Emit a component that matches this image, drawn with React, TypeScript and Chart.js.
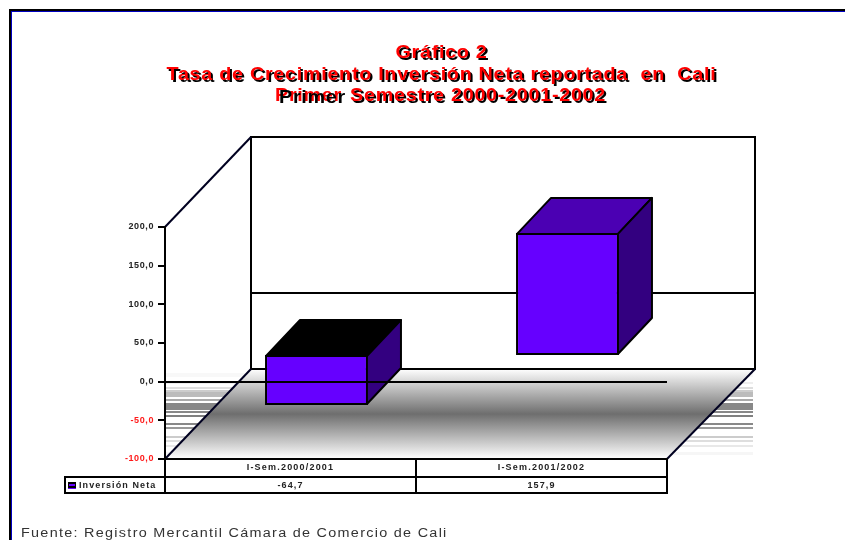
import React, { useEffect, useRef } from "react";
import { Chart, registerables } from "chart.js";

Chart.register(...registerables);

const categories = ["I-Sem.2000/2001", "I-Sem.2001/2002"];
const seriesName = "Inversión Neta";
const inversionNeta = [-64.7, 157.9];
const topColors = ["#000000", "#4b00b3"];
const titleLines = ["Gráfico 2", "Tasa de Crecimiento Inversión Neta reportada  en  Cali"];
const titleLead = "Primer";
const titleRest = " Semestre 2000-2001-2002";
const footer = "Fuente: Registro Mercantil Cámara de Comercio de Cali";
// band decoration [top, height, grey]
const bands: number[][] = [
  [373, 4, 248], [382, 2, 238], [387, 2, 222], [390, 2, 205], [392, 5, 188], [399, 2, 170],
  [403, 7, 136], [411, 2, 136], [415, 2, 128], [423, 2, 136], [427, 2, 153], [436, 2, 204],
  [440, 2, 222], [445, 2, 232], [452, 3, 246],
];

const fmt = (v: number, d = 1) => v.toFixed(d).replace(".", ",");
const ARIAL = '"Liberation Sans"';

function line(ctx: CanvasRenderingContext2D, pts: number[][], w = 2, c = "#000") {
  ctx.beginPath();
  pts.forEach((p, i) => (i ? ctx.lineTo(p[0], p[1]) : ctx.moveTo(p[0], p[1])));
  ctx.lineWidth = w;
  ctx.strokeStyle = c;
  ctx.stroke();
}

function poly(ctx: CanvasRenderingContext2D, pts: number[][], fill: string) {
  ctx.beginPath();
  pts.forEach((p, i) => (i ? ctx.lineTo(p[0], p[1]) : ctx.moveTo(p[0], p[1])));
  ctx.closePath();
  ctx.fillStyle = fill;
  ctx.fill();
  ctx.lineWidth = 2;
  ctx.strokeStyle = "#000";
  ctx.lineJoin = "round";
  ctx.stroke();
}

function wideText(ctx: CanvasRenderingContext2D, t: string, x: number, y: number, sx: number) {
  ctx.save();
  ctx.translate(x, y);
  ctx.scale(sx, 1);
  ctx.fillText(t, 0, 0);
  ctx.restore();
}

const BAR_SHIFT_X = 26;
const BAR_SHIFT_Y = 26.67;
const TITLE_SX = 1.1;
const spacing = { x: "1.2px", y: "0.6px" };

const scene = {
  id: "scene",
  beforeDraw(chart: any) {
    const ctx: CanvasRenderingContext2D = chart.ctx;
    const { x, y } = chart.scales;
    // per-axis letter spacing of the tick labels
    for (const k of ["x", "y"] as const) {
      const s = chart.scales[k];
      if (!s.__spaced) {
        const orig = s.drawLabels;
        s.drawLabels = function (a: any) {
          ctx.save();
          (ctx as any).letterSpacing = spacing[k];
          orig.call(this, a);
          ctx.restore();
        };
        s.__spaced = true;
      }
    }
    ctx.save();
    ctx.fillStyle = "#fff";
    ctx.fillRect(0, 0, chart.width, chart.height);

    // outer frame
    ctx.fillStyle = "#000";
    ctx.fillRect(9, 9, 836, 2);
    ctx.fillRect(9, 9, 2, 531);
    ctx.fillStyle = "#0000c0";
    ctx.fillRect(11, 11, 834, 1);
    ctx.fillRect(11, 11, 1, 529);

    const L = x.left, R = x.right, T = y.top, B = y.bottom;
    const dx = 86, dy = 90;
    const RW = R + 88;

    // bands beside the floor
    for (const [t, h, g] of bands) {
      ctx.fillStyle = `rgb(${g},${g},${g})`;
      ctx.fillRect(L, t, dx, h);
      ctx.fillRect(R, t, dx, h);
    }

    // back wall interior
    ctx.fillStyle = "#fff";
    ctx.fillRect(L + dx, T - dy, RW - L - dx, B - T);

    // floor
    const g = ctx.createLinearGradient(0, B - dy, 0, B);
    g.addColorStop(0, "#ffffff");
    g.addColorStop(0.5, "#6e6e6e");
    g.addColorStop(1, "#ffffff");
    ctx.beginPath();
    ctx.moveTo(L, B);
    ctx.lineTo(L + dx, B - dy);
    ctx.lineTo(RW, B - dy);
    ctx.lineTo(R, B);
    ctx.closePath();
    ctx.fillStyle = g;
    ctx.fill();

    // walls
    line(ctx, [[L + dx, B - dy], [L + dx, T - dy], [RW, T - dy], [RW, B - dy], [L + dx, B - dy]]);
    line(ctx, [[L, T], [L + dx, T - dy]], 2, "#000020");
    line(ctx, [[L, B], [L + dx, B - dy]], 2, "#000020");
    line(ctx, [[RW, B - dy], [R, B]], 2, "#000020");
    // zero line on the back wall
    const zero = Math.round(y.getPixelForValue(0));
    line(ctx, [[L + dx, zero - 89], [RW, zero - 89]]);

    // title
    ctx.textBaseline = "alphabetic";
    ctx.textAlign = "left";
    ctx.font = `bold 18px ${ARIAL}`;
    (ctx as any).letterSpacing = "0.63px";
    const cx = 442.5;
    const ys = [59, 81, 102];
    titleLines.forEach((t, i) => {
      const w = ctx.measureText(t).width * TITLE_SX;
      ctx.fillStyle = "#000";
      wideText(ctx, t, cx - w / 2 + 1, ys[i] + 1, TITLE_SX);
      ctx.fillStyle = "#ff0000";
      wideText(ctx, t, cx - w / 2 - 1, ys[i] - 1, TITLE_SX);
    });
    const whole = titleLead + titleRest;
    const x0 = cx - (ctx.measureText(whole).width * TITLE_SX) / 2;
    const xr = x0 + ctx.measureText(titleLead).width * TITLE_SX;
    ctx.fillStyle = "#ff0000";
    wideText(ctx, titleLead, x0 - 3, ys[2] - 1, TITLE_SX);
    ctx.fillStyle = "#000";
    wideText(ctx, titleLead, x0 + 1, ys[2] + 1, TITLE_SX);
    wideText(ctx, titleRest, xr + 1, ys[2] + 1, TITLE_SX);
    ctx.fillStyle = "#ff0000";
    wideText(ctx, titleRest, xr - 1, ys[2] - 1, TITLE_SX);
    ctx.restore();
  },
  beforeDatasetsDraw(chart: any) {
    chart.ctx.save();
    chart.ctx.translate(BAR_SHIFT_X, -BAR_SHIFT_Y);
  },
  afterDatasetsDraw(chart: any) {
    const ctx: CanvasRenderingContext2D = chart.ctx;
    const { x, y } = chart.scales;
    const dx = 34, dy = 36;
    chart.getDatasetMeta(0).data.forEach((b: any, i: number) => {
      const l = b.x - b.width / 2 + 1, r = b.x + b.width / 2 - 1;
      const t = Math.min(b.y, b.base) + 1, bo = Math.max(b.y, b.base) - 1;
      poly(ctx, [[l, t], [l + dx, t - dy], [r + dx, t - dy], [r, t]], topColors[i]);
      poly(ctx, [[r, t], [r + dx, t - dy], [r + dx, bo - dy], [r, bo]], "#330080");
    });
    ctx.restore();
    // front zero line
    const zero = Math.round(y.getPixelForValue(0));
    line(ctx, [[x.left, zero], [x.right, zero]]);
  },
  afterDraw(chart: any) {
    const ctx: CanvasRenderingContext2D = chart.ctx;
    const { x, y } = chart.scales;
    const L = x.left, R = x.right, B = y.bottom;
    const mid = (x.getPixelForValue(0) + x.getPixelForValue(1)) / 2;
    const r1 = 477, r2 = 493, LL = 65;
    ctx.save();
    line(ctx, [[L - 1, B], [R + 1, B]]);
    line(ctx, [[LL, r1], [R, r1]]);
    line(ctx, [[LL, r2], [R + 1, r2]]);
    line(ctx, [[LL, r1 - 1], [LL, r2 + 1]]);
    line(ctx, [[L, B], [L, r2]]);
    line(ctx, [[mid, B], [mid, r2]]);
    line(ctx, [[R, B], [R, r2 + 1]]);

    // data row
    ctx.textBaseline = "middle";
    ctx.font = `bold 9px ${ARIAL}`;
    ctx.fillStyle = "#222";
    (ctx as any).letterSpacing = "1.1px";
    ctx.textAlign = "center";
    inversionNeta.forEach((v, i) => ctx.fillText(fmt(v), x.getPixelForValue(i), 485.5));
    ctx.textAlign = "left";
    ctx.fillText(chart.data.datasets[0].label, 79, 485.5);

    // legend key
    ctx.fillStyle = "#6600ff";
    ctx.fillRect(68, 482, 8, 7);
    ctx.fillStyle = "#000";
    ctx.fillRect(68, 482, 8, 6);
    ctx.fillStyle = "#6600ff";
    ctx.fillRect(69, 484, 6, 2);

    // source
    ctx.textBaseline = "alphabetic";
    ctx.font = `12px ${ARIAL}`;
    (ctx as any).letterSpacing = "1.07px";
    ctx.fillStyle = "#333";
    wideText(ctx, footer, 21, 537, 1.2);
    ctx.restore();
  },
};

export default function App() {
  const ref = useRef<HTMLCanvasElement>(null);
  useEffect(() => {
    const chart = new Chart(ref.current!, {
      type: "bar",
      data: {
        labels: categories,
        datasets: [
          {
            label: seriesName,
            data: inversionNeta,
            backgroundColor: "#6600ff",
            borderColor: "#000",
            borderWidth: 2,
            borderSkipped: false,
            barPercentage: 0.41,
            categoryPercentage: 1,
            clip: false,
          } as any,
        ],
      },
      options: {
        animation: false,
        responsive: false,
        devicePixelRatio: 1,
        layout: { padding: { left: 0, right: 178, top: 227, bottom: 0 } },
        plugins: { legend: { display: false }, title: { display: false }, tooltip: { enabled: false } },
        scales: {
          x: {
            afterFit: (s: any) => { s.height = 81; },
            grid: { display: false, drawTicks: false },
            border: { display: false },
            ticks: { color: "#222", font: { family: ARIAL, size: 9, weight: "bold" }, padding: 3, maxRotation: 0 },
          },
          y: {
            min: -100,
            max: 200,
            afterFit: (s: any) => { s.width = 165; },
            grid: { drawOnChartArea: false, tickLength: 7, lineWidth: 0, tickWidth: 2, tickColor: "#000", color: "#000" },
            border: { color: "#000", width: 2 },
            ticks: {
              stepSize: 50,
              padding: 4,
              font: { family: ARIAL, size: 9, weight: "bold" },
              color: (c: any) => (c.tick.value < 0 ? "#ff1a1a" : "#222"),
              callback: (v: any) => fmt(Number(v)),
            },
          },
        },
      } as any,
      plugins: [scene],
    });
    return () => chart.destroy();
  }, []);
  return <canvas ref={ref} width={845} height={540} style={{ position: "absolute", left: 0, top: 0, display: "block" }} />;
}
